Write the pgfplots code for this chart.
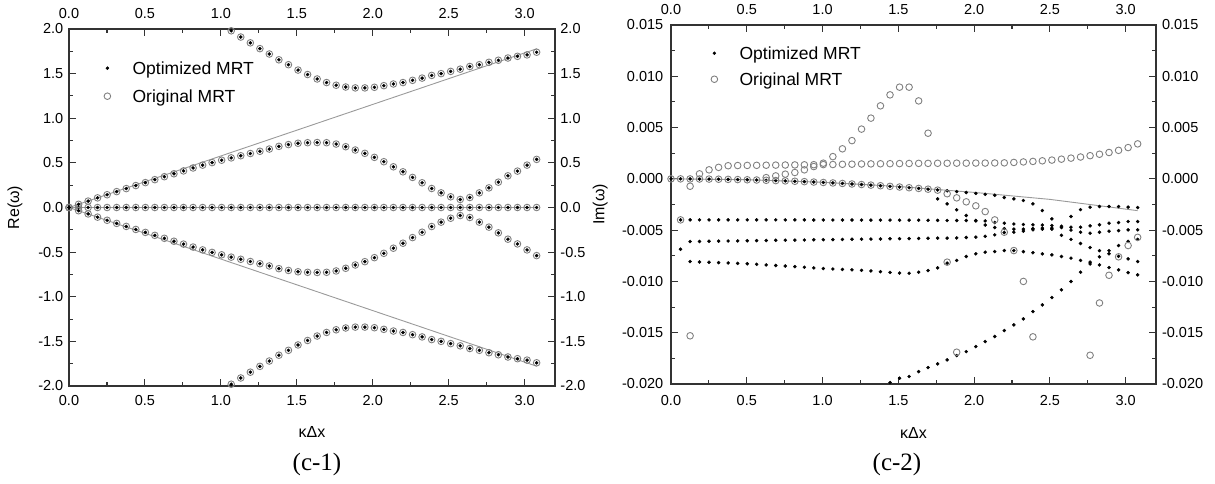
\documentclass[border=0pt]{standalone}
\usepackage{fontspec}
\setmainfont{Liberation Sans}
\newfontfamily\capfont{Liberation Serif}
\usepackage{pgfplots}
\usepackage{pgfplotstable}
\pgfplotsset{compat=1.18}

\definecolor{ringgray}{HTML}{808080}
\definecolor{linegray}{HTML}{9A9A9A}
\definecolor{frame}{HTML}{333333}

% Re(omega): k, zero branch, middle branches, outer branches
\pgfplotstableread{
k     z  mp     mm      op     om
0.000 0  0.000  0.000   nan    nan
0.063 0  0.036  -0.036  nan    nan
0.126 0  0.072  -0.072  nan    nan
0.188 0  0.108  -0.108  nan    nan
0.251 0  0.143  -0.143  nan    nan
0.314 0  0.178  -0.178  nan    nan
0.377 0  0.212  -0.212  nan    nan
0.440 0  0.246  -0.246  nan    nan
0.503 0  0.279  -0.279  nan    nan
0.565 0  0.312  -0.312  nan    nan
0.628 0  0.345  -0.345  nan    nan
0.691 0  0.378  -0.378  nan    nan
0.754 0  0.410  -0.410  nan    nan
0.817 0  0.443  -0.443  nan    nan
0.880 0  0.475  -0.475  nan    nan
0.942 0  0.503  -0.503  nan    nan
1.005 0  0.530  -0.530  nan    nan
1.068 0  0.556  -0.556  1.980  -1.980
1.131 0  0.580  -0.580  1.910  -1.910
1.194 0  0.605  -0.605  1.845  -1.845
1.257 0  0.630  -0.630  1.780  -1.780
1.319 0  0.655  -0.655  1.720  -1.720
1.382 0  0.685  -0.685  1.655  -1.655
1.445 0  0.705  -0.705  1.600  -1.600
1.508 0  0.720  -0.720  1.540  -1.540
1.571 0  0.726  -0.726  1.490  -1.490
1.634 0  0.728  -0.728  1.440  -1.440
1.696 0  0.726  -0.726  1.400  -1.400
1.759 0  0.711  -0.711  1.370  -1.370
1.822 0  0.681  -0.681  1.350  -1.350
1.885 0  0.644  -0.644  1.340  -1.340
1.948 0  0.607  -0.607  1.340  -1.340
2.011 0  0.562  -0.562  1.347  -1.347
2.073 0  0.513  -0.513  1.365  -1.365
2.136 0  0.456  -0.456  1.384  -1.384
2.199 0  0.400  -0.400  1.400  -1.400
2.262 0  0.337  -0.337  1.425  -1.425
2.325 0  0.277  -0.277  1.450  -1.450
2.388 0  0.213  -0.213  1.480  -1.480
2.450 0  0.164  -0.164  1.500  -1.500
2.513 0  0.120  -0.120  1.525  -1.525
2.576 0  0.090  -0.090  1.550  -1.550
2.639 0  0.112  -0.112  1.580  -1.580
2.702 0  0.164  -0.164  1.600  -1.600
2.765 0  0.220  -0.220  1.627  -1.627
2.827 0  0.284  -0.284  1.650  -1.650
2.890 0  0.355  -0.355  1.675  -1.675
2.953 0  0.408  -0.408  1.694  -1.694
3.016 0  0.475  -0.475  1.710  -1.710
3.079 0  0.539  -0.539  1.740  -1.740
}\retab

% Im(omega): b* optimized MRT branches, c* original MRT branches
\pgfplotstableread{
k     b0        b1       b2       b3       b4        b5       c0        c1       c2       c3
0.000 0         nan      nan      nan      nan       nan      0         nan      nan      nan
0.063 0         -4.00e-3 -6.86e-3 nan      nan       nan      0         nan      nan      -4.00e-3
0.126 -0.006e-3 -4.00e-3 -6.11e-3 -8.06e-3 nan       nan      -0.006e-3 -0.72e-3 nan      -15.3e-3
0.188 -0.012e-3 -4.00e-3 -6.10e-3 -8.10e-3 nan       nan      -0.012e-3 0.49e-3  nan      nan
0.251 -0.022e-3 -4.00e-3 -6.08e-3 -8.13e-3 nan       nan      -0.022e-3 0.88e-3  nan      nan
0.314 -0.035e-3 -4.00e-3 -6.07e-3 -8.17e-3 nan       nan      -0.035e-3 1.12e-3  nan      nan
0.377 -0.050e-3 -4.00e-3 -6.06e-3 -8.20e-3 nan       nan      -0.050e-3 1.28e-3  nan      nan
0.440 -0.068e-3 -4.00e-3 -6.05e-3 -8.24e-3 nan       nan      -0.068e-3 1.30e-3  nan      nan
0.503 -0.089e-3 -4.00e-3 -6.03e-3 -8.28e-3 nan       nan      -0.089e-3 1.31e-3  nan      nan
0.565 -0.112e-3 -4.00e-3 -6.02e-3 -8.33e-3 nan       nan      -0.112e-3 1.32e-3  nan      nan
0.628 -0.138e-3 -4.00e-3 -6.01e-3 -8.39e-3 nan       nan      -0.138e-3 1.33e-3  0.12e-3  nan
0.691 -0.167e-3 -4.00e-3 -5.99e-3 -8.45e-3 nan       nan      -0.167e-3 1.34e-3  0.29e-3  nan
0.754 -0.199e-3 -4.00e-3 -5.98e-3 -8.50e-3 nan       nan      -0.199e-3 1.35e-3  0.46e-3  nan
0.817 -0.234e-3 -4.00e-3 -5.97e-3 -8.56e-3 nan       nan      -0.234e-3 1.36e-3  0.62e-3  nan
0.880 -0.271e-3 -4.00e-3 -5.96e-3 -8.62e-3 nan       nan      -0.271e-3 1.37e-3  0.88e-3  nan
0.942 -0.311e-3 -4.01e-3 -5.94e-3 -8.68e-3 nan       nan      -0.311e-3 1.38e-3  1.20e-3  nan
1.005 -0.354e-3 -4.01e-3 -5.93e-3 -8.74e-3 nan       nan      -0.354e-3 1.39e-3  1.53e-3  nan
1.068 -0.399e-3 -4.01e-3 -5.92e-3 -8.79e-3 nan       nan      -0.399e-3 1.40e-3  2.17e-3  nan
1.131 -0.448e-3 -4.01e-3 -5.91e-3 -8.83e-3 nan       nan      -0.448e-3 1.42e-3  2.93e-3  nan
1.194 -0.499e-3 -4.01e-3 -5.89e-3 -8.87e-3 nan       nan      -0.499e-3 1.43e-3  3.73e-3  nan
1.257 -0.553e-3 -4.02e-3 -5.88e-3 -8.92e-3 nan       nan      -0.553e-3 1.45e-3  4.85e-3  nan
1.319 -0.609e-3 -4.02e-3 -5.87e-3 -8.98e-3 nan       nan      -0.609e-3 1.46e-3  5.92e-3  nan
1.382 -0.669e-3 -4.02e-3 -5.86e-3 -9.05e-3 nan       nan      -0.669e-3 1.47e-3  7.12e-3  nan
1.445 -0.731e-3 -4.02e-3 -5.84e-3 -9.12e-3 -19.86e-3 nan      -0.731e-3 1.48e-3  8.19e-3  nan
1.508 -0.796e-3 -4.03e-3 -5.83e-3 -9.18e-3 -19.43e-3 nan      -0.796e-3 1.49e-3  8.94e-3  nan
1.571 -0.864e-3 -4.03e-3 -5.82e-3 -9.20e-3 -19.27e-3 nan      -0.864e-3 1.50e-3  8.94e-3  nan
1.634 -0.934e-3 -4.03e-3 -5.81e-3 -9.10e-3 -18.79e-3 nan      -0.934e-3 1.51e-3  7.60e-3  nan
1.696 -1.007e-3 -4.04e-3 -5.79e-3 -8.94e-3 -18.40e-3 nan      -1.007e-3 1.51e-3  4.45e-3  nan
1.759 -1.083e-3 -4.05e-3 -5.78e-3 -8.68e-3 -18.04e-3 -1.95e-3 -1.10e-3  1.52e-3  nan      nan
1.822 -1.162e-3 -4.06e-3 -5.78e-3 -8.22e-3 -17.65e-3 -2.44e-3 -1.45e-3  1.52e-3  nan      -8.12e-3
1.885 -1.243e-3 -4.06e-3 -5.76e-3 -7.95e-3 -17.23e-3 -3.02e-3 -1.85e-3  1.53e-3  nan      -16.9e-3
1.948 -1.328e-3 -4.06e-3 -5.72e-3 -7.57e-3 -16.84e-3 -3.57e-3 -2.24e-3  1.53e-3  nan      nan
2.011 -1.415e-3 -4.06e-3 -5.68e-3 -7.31e-3 -16.35e-3 -4.10e-3 -2.63e-3  1.54e-3  nan      nan
2.073 -1.504e-3 -4.10e-3 -5.60e-3 -7.15e-3 -15.86e-3 -4.50e-3 -3.19e-3  1.54e-3  nan      nan
2.136 -1.597e-3 -4.26e-3 -5.46e-3 -7.09e-3 -15.37e-3 -4.75e-3 -4.00e-3  1.55e-3  nan      nan
2.199 -1.82e-3  -4.32e-3 -5.23e-3 -6.99e-3 -14.79e-3 -4.85e-3 -5.20e-3  1.56e-3  nan      nan
2.262 -1.95e-3  -4.40e-3 -5.20e-3 -6.99e-3 -14.24e-3 -4.90e-3 -6.99e-3  1.60e-3  nan      nan
2.325 -2.11e-3  -4.45e-3 -5.10e-3 -7.10e-3 -13.65e-3 -4.90e-3 -10.0e-3  1.65e-3  nan      nan
2.388 -2.44e-3  -4.48e-3 -4.97e-3 -7.20e-3 -12.94e-3 -4.85e-3 -15.4e-3  1.70e-3  nan      nan
2.450 -3.09e-3  -4.50e-3 -4.90e-3 -7.31e-3 -12.29e-3 -4.80e-3 nan       1.76e-3  nan      nan
2.513 -3.90e-3  -4.55e-3 -4.80e-3 -7.41e-3 -11.57e-3 -4.90e-3 nan       1.83e-3  nan      nan
2.576 nan       -4.62e-3 -4.75e-3 -7.57e-3 -10.82e-3 -5.50e-3 nan       1.92e-3  nan      nan
2.639 -3.67e-3  -4.71e-3 -5.00e-3 -7.73e-3 -10.01e-3 -5.90e-3 nan       2.02e-3  nan      nan
2.702 -3.00e-3  -4.71e-3 -5.20e-3 -7.95e-3 -9.10e-3  -6.30e-3 nan       2.13e-3  nan      nan
2.765 -2.76e-3  -4.58e-3 -5.30e-3 -8.12e-3 -8.30e-3  -6.70e-3 nan       2.26e-3  nan      -17.2e-3
2.827 -2.70e-3  -4.48e-3 -5.20e-3 -8.39e-3 -7.60e-3  -7.00e-3 nan       2.40e-3  nan      -12.1e-3
2.890 -2.70e-3  -4.32e-3 -5.10e-3 -8.65e-3 -7.00e-3  -7.30e-3 nan       2.57e-3  nan      -9.4e-3
2.953 -2.70e-3  -4.26e-3 -5.05e-3 -8.87e-3 -6.50e-3  -7.55e-3 nan       2.78e-3  nan      -7.6e-3
3.016 -2.76e-3  -4.16e-3 -4.97e-3 -9.14e-3 -6.10e-3  -7.80e-3 nan       3.05e-3  nan      -6.5e-3
3.079 -2.80e-3  -4.16e-3 -4.97e-3 -9.36e-3 -5.90e-3  -8.06e-3 nan       3.41e-3  nan      -5.7e-3
}\imtab

\pgfplotsset{
  panel/.style={
    scale only axis, anchor=south west,
    xmin=0, xmax=3.2, xtick={0,0.5,1,1.5,2,2.5,3},
    minor x tick num=1, minor y tick num=1,
    tick align=inside, major tick length=7pt, minor tick length=4pt,
    axis line style={frame, line width=1.1pt},
    tick style={frame, line width=1.1pt},
    tick label style={font=\fontsize{14.5}{16}\selectfont},
    /pgf/number format/assume math mode=true,
    x tick label style={/pgf/number format/.cd, fixed, fixed zerofill, precision=1, /tikz/.cd},
    label style={font=\fontsize{16}{18}\selectfont},
    legend cell align=left,
    legend image code/.code={\path (0pt,0pt) (35pt,0pt); \draw[##1] plot coordinates {(10pt,0pt)};},
  },
  overlay/.style={axis line style={draw=none}, tick style={draw=none},
    xticklabel pos=upper, yticklabel pos=right},
  dotm/.style={only marks, mark=*, mark size=1.55pt, black},
  ringm/.style={only marks, mark=o, mark size=3.3pt, ringgray, mark options={line width=0.9pt}},
  legsty/.style={legend style={at={(axis description cs:#1)}, anchor=north west,
    draw=none, fill=none, inner sep=0pt, font=\fontsize{17.5}{20}\selectfont,
    nodes={inner sep=0pt, text height=13pt, text depth=0pt}}},
}

\begin{document}
\begin{tikzpicture}[x=1pt,y=1pt]
\path[use as bounding box] (0,0) rectangle (1215,483);

% ---- (c-1) real part
\begin{axis}[panel, at={(69pt,97pt)}, width=486pt, height=357pt,
  ymin=-2, ymax=2, ytick={-2,-1.5,-1,-0.5,0,0.5,1,1.5,2},
  y tick label style={/pgf/number format/.cd, fixed, fixed zerofill, precision=1, /tikz/.cd, xshift=-2.2pt},
  x tick label style={yshift=-5.7pt},
  xlabel={κΔx}, ylabel={Re(ω)},
  xlabel style={at={(axis description cs:0.5,-0.128)}, anchor=center},
  ylabel style={at={(axis description cs:-0.111,0.5)}, anchor=center},
  legsty={0.0576,0.909}, legend style={row sep=15pt}]
\addlegendimage{dotm}\addlegendentry{Optimized MRT}
\addlegendimage{ringm}\addlegendentry{Original MRT}
\addplot[linegray, line width=0.9pt] coordinates {(0,0) (3.079,1.778)};
\addplot[linegray, line width=0.9pt] coordinates {(0,0) (3.079,-1.778)};
\addplot[linegray, line width=0.9pt] coordinates {(0,0) (3.079,0)};
\foreach \c in {z,mp,mm,op,om}{
  \addplot[dotm] table[x=k, y=\c] {\retab};
  \addplot[ringm] table[x=k, y=\c] {\retab};
}
\end{axis}
\begin{axis}[panel, overlay, at={(69pt,97pt)}, width=486pt, height=357pt,
  ymin=-2, ymax=2, ytick={-2,-1.5,-1,-0.5,0,0.5,1,1.5,2},
  y tick label style={/pgf/number format/.cd, fixed, fixed zerofill, precision=1, /tikz/.cd, xshift=1.9pt},
  x tick label style={yshift=6.5pt}]
\end{axis}

% ---- (c-2) imaginary part
\begin{axis}[panel, at={(671pt,99pt)}, width=485pt, height=359pt,
  ymin=-0.02, ymax=0.015, ytick={-0.02,-0.015,-0.01,-0.005,0,0.005,0.01,0.015},
  scaled y ticks=false,
  y tick label style={/pgf/number format/.cd, fixed, fixed zerofill, precision=3, /tikz/.cd, xshift=-4.2pt},
  x tick label style={yshift=-8.3pt},
  xlabel={κΔx}, ylabel={Im(ω)},
  xlabel style={at={(axis description cs:0.5,-0.136)}, anchor=center},
  ylabel style={at={(axis description cs:-0.146,0.5)}, anchor=center},
  legsty={0.068,0.940}, legend style={row sep=13pt}]
\addlegendimage{dotm}\addlegendentry{Optimized MRT}
\addlegendimage{ringm}\addlegendentry{Original MRT}
\addplot[linegray, line width=0.9pt] coordinates {
  (0,0) (0.5,-0.083e-3) (1.0,-0.33e-3) (1.5,-0.74e-3) (2.0,-1.32e-3) (2.5,-2.0e-3) (3.079,-3.1e-3)};
\foreach \c in {b0,b1,b2,b3,b4,b5}{
  \addplot[dotm] table[x=k, y=\c] {\imtab};
}
\foreach \c in {c0,c1,c2,c3}{
  \addplot[ringm] table[x=k, y=\c] {\imtab};
}
\end{axis}
\begin{axis}[panel, overlay, at={(671pt,99pt)}, width=485pt, height=359pt,
  ymin=-0.02, ymax=0.015, ytick={-0.02,-0.015,-0.01,-0.005,0,0.005,0.01,0.015},
  scaled y ticks=false,
  y tick label style={/pgf/number format/.cd, fixed, fixed zerofill, precision=3, /tikz/.cd, xshift=2.5pt},
  x tick label style={yshift=6.5pt}]
\end{axis}

\node[font=\capfont\fontsize{25}{28}\selectfont, anchor=base] at (317,13) {(c-1)};
\node[font=\capfont\fontsize{25}{28}\selectfont, anchor=base] at (897,13) {(c-2)};
\end{tikzpicture}
\end{document}
